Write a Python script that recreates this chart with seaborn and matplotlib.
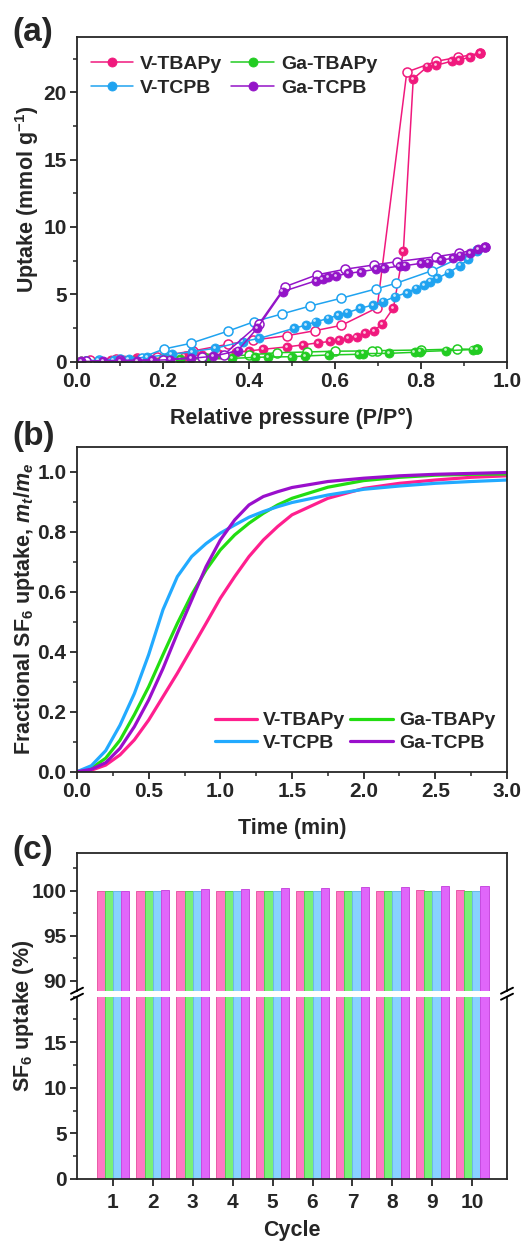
import numpy as np
import pandas as pd
import matplotlib
matplotlib.use("Agg")
import matplotlib.pyplot as plt
import matplotlib.transforms as mtransforms
from matplotlib.ticker import MultipleLocator
import seaborn as sns

# ---------------- data ----------------
names = ["V-TBAPy", "Ga-TBAPy", "V-TCPB", "Ga-TCPB"]

# (a) isotherms: adsorption (filled) / desorption (open)
vtbapy_ads_x = [0.01, 0.05, 0.08, 0.11, 0.14, 0.17, 0.21, 0.25, 0.29, 0.33, 0.37, 0.40, 0.433, 0.488, 0.526, 0.56,
                0.588, 0.61, 0.63, 0.65, 0.67, 0.69, 0.71, 0.736, 0.759, 0.782, 0.815, 0.835, 0.871, 0.889, 0.914, 0.937]
vtbapy_ads_y = [0.03, 0.06, 0.1, 0.14, 0.18, 0.22, 0.3, 0.4, 0.5, 0.6, 0.7, 0.8, 0.92, 1.1, 1.25, 1.4,
                1.5, 1.58, 1.73, 1.85, 2.1, 2.3, 2.8, 4.0, 8.2, 21.0, 21.9, 22.0, 22.3, 22.4, 22.6, 22.9]
vtbapy_des_x = [0.937, 0.887, 0.836, 0.767, 0.698, 0.615, 0.553, 0.488, 0.41, 0.352, 0.27, 0.185, 0.14, 0.09, 0.03]
vtbapy_des_y = [22.9, 22.6, 22.3, 21.5, 4.0, 2.7, 2.3, 1.93, 1.6, 1.3, 0.8, 0.37, 0.3, 0.22, 0.15]

vtcpb_ads_x = [0.02, 0.05, 0.085, 0.12, 0.163, 0.22, 0.267, 0.321, 0.385, 0.424, 0.505, 0.533, 0.555, 0.584, 0.608,
               0.629, 0.658, 0.688, 0.712, 0.74, 0.767, 0.788, 0.807, 0.822, 0.838, 0.864, 0.891, 0.91, 0.93]
vtcpb_ads_y = [0.05, 0.08, 0.12, 0.2, 0.35, 0.54, 0.74, 0.99, 1.49, 1.73, 2.48, 2.72, 2.97, 3.2, 3.47,
               3.64, 3.96, 4.2, 4.46, 4.83, 5.12, 5.42, 5.69, 5.94, 6.19, 6.61, 7.13, 7.6, 8.2]
vtcpb_des_x = [0.93, 0.826, 0.742, 0.695, 0.613, 0.542, 0.476, 0.412, 0.352, 0.264, 0.202, 0.15, 0.1, 0.05, 0.02]
vtcpb_des_y = [8.3, 6.76, 5.82, 5.4, 4.7, 4.13, 3.54, 2.97, 2.28, 1.36, 0.94, 0.3, 0.2, 0.12, 0.06]

gatbapy_ads_x = [0.01, 0.05, 0.09, 0.13, 0.17, 0.21, 0.24, 0.30, 0.361, 0.414, 0.445, 0.499, 0.53, 0.585, 0.655,
                 0.665, 0.726, 0.785, 0.797, 0.858, 0.92, 0.93]
gatbapy_ads_y = [0.02, 0.04, 0.06, 0.08, 0.1, 0.15, 0.2, 0.22, 0.25, 0.32, 0.35, 0.37, 0.42, 0.5, 0.55,
                 0.6, 0.62, 0.7, 0.75, 0.82, 0.9, 0.92]
gatbapy_des_x = [0.93, 0.884, 0.8, 0.698, 0.685, 0.6, 0.535, 0.466, 0.40, 0.3, 0.2, 0.1, 0.02]
gatbapy_des_y = [0.92, 0.94, 0.87, 0.82, 0.8, 0.78, 0.72, 0.67, 0.5, 0.3, 0.2, 0.1, 0.05]

gatcpb_ads_x = [0.01, 0.06, 0.1, 0.14, 0.175, 0.216, 0.265, 0.317, 0.374, 0.419, 0.478, 0.556, 0.571, 0.584, 0.602,
                0.631, 0.66, 0.695, 0.714, 0.75, 0.763, 0.8, 0.817, 0.846, 0.874, 0.891, 0.914, 0.933, 0.949]
gatcpb_ads_y = [0.02, 0.04, 0.05, 0.07, 0.1, 0.15, 0.25, 0.4, 0.82, 2.48, 5.2, 6.01, 6.11, 6.26, 6.36,
                6.56, 6.68, 6.86, 6.93, 7.1, 7.13, 7.3, 7.35, 7.55, 7.67, 7.87, 8.04, 8.34, 8.49]
gatcpb_des_x = [0.949, 0.888, 0.836, 0.745, 0.69, 0.623, 0.557, 0.484, 0.423, 0.341, 0.29, 0.2, 0.1, 0.02]
gatcpb_des_y = [8.49, 8.05, 7.8, 7.43, 7.18, 6.86, 6.44, 5.57, 2.8, 0.5, 0.35, 0.15, 0.1, 0.05]

# (b) kinetics
time_min = [0, 0.1, 0.2, 0.3, 0.4, 0.5, 0.6, 0.7, 0.8, 0.9, 1.0, 1.1, 1.2, 1.3, 1.4, 1.5,
            1.75, 2.0, 2.25, 2.5, 2.75, 3.0]
kin_vtbapy = [0, 0.005, 0.022, 0.056, 0.106, 0.172, 0.25, 0.328, 0.411, 0.494, 0.578, 0.65, 0.717, 0.772, 0.817,
              0.856, 0.911, 0.944, 0.961, 0.972, 0.981, 0.986]
kin_gatbapy = [0, 0.011, 0.045, 0.105, 0.19, 0.283, 0.39, 0.494, 0.59, 0.672, 0.739, 0.789, 0.828, 0.861, 0.889,
               0.911, 0.948, 0.97, 0.981, 0.988, 0.991, 0.992]
kin_vtcpb = [0, 0.02, 0.07, 0.155, 0.26, 0.39, 0.54, 0.65, 0.717, 0.76, 0.795, 0.822, 0.848, 0.867, 0.883,
             0.897, 0.922, 0.941, 0.952, 0.961, 0.967, 0.972]
kin_gatcpb = [0, 0.008, 0.03, 0.078, 0.15, 0.239, 0.344, 0.461, 0.572, 0.683, 0.772, 0.839, 0.889, 0.917, 0.933,
              0.947, 0.967, 0.978, 0.986, 0.991, 0.994, 0.997]

# (c) cycling
cycles = [1, 2, 3, 4, 5, 6, 7, 8, 9, 10]
cyc_vtbapy = [100.0, 100.0, 100.0, 100.0, 100.0, 100.02, 100.02, 100.03, 100.05, 100.07]
cyc_gatbapy = [99.97, 99.95, 99.95, 99.95, 99.95, 99.97, 99.97, 99.95, 99.97, 99.95]
cyc_vtcpb = [100.0, 100.0, 100.02, 100.0, 100.02, 100.0, 100.0, 100.02, 100.0, 100.0]
cyc_gatcpb = [100.0, 100.07, 100.15, 100.22, 100.26, 100.33, 100.37, 100.44, 100.48, 100.55]

# ---------------- style ----------------
sns.set_theme(style="ticks")
plt.rcParams["font.family"] = ["Liberation Sans", "DejaVu Sans"]
plt.rcParams["font.weight"] = "bold"
plt.rcParams["axes.labelweight"] = "bold"
plt.rcParams["mathtext.fontset"] = "custom"
plt.rcParams["mathtext.rm"] = "Liberation Sans:bold"
plt.rcParams["mathtext.it"] = "Liberation Sans:italic:bold"
plt.rcParams["mathtext.bf"] = "Liberation Sans:bold"
plt.rcParams["axes.linewidth"] = 1.3
plt.rcParams["xtick.major.width"] = 1.3
plt.rcParams["ytick.major.width"] = 1.3
plt.rcParams["xtick.minor.width"] = 1.1
plt.rcParams["ytick.minor.width"] = 1.1
plt.rcParams["xtick.major.size"] = 5
plt.rcParams["ytick.major.size"] = 5
plt.rcParams["xtick.minor.size"] = 3
plt.rcParams["ytick.minor.size"] = 3
plt.rcParams["xtick.direction"] = "out"
plt.rcParams["ytick.direction"] = "out"

TICK = 15
LAB = 15.5
LEG = 14

line_cols = {"V-TBAPy": "#F0197D", "Ga-TBAPy": "#22CC22", "V-TCPB": "#1FA3F0", "Ga-TCPB": "#9414C8"}
kin_cols = {"V-TBAPy": "#FF1F8E", "Ga-TBAPy": "#22DD11", "V-TCPB": "#22AAFF", "Ga-TCPB": "#9A0FCC"}
bar_cols = {"V-TBAPy": "#FF78C6", "Ga-TBAPy": "#78F078", "V-TCPB": "#88D2FF", "Ga-TCPB": "#E066FA"}
bar_edges = ["#E85AA8", "#55D055", "#6AB8E8", "#C84AE0"]

W, H = 530, 1242
fig = plt.figure(figsize=(W / 100, H / 100), dpi=100)


def rect(l, r, t, b):
    return [l / W, 1 - b / H, (r - l) / W, (b - t) / H]


def style_ticks(ax):
    ax.tick_params(axis="both", labelsize=TICK, top=False, right=False, pad=2.5)
    ax.tick_params(which="minor", top=False, right=False)
    for lab in ax.get_xticklabels() + ax.get_yticklabels():
        lab.set_fontweight("bold")


# ---------------- (a) ----------------
ax_a = fig.add_axes(rect(77, 507, 37, 361.7))
series_a = [
    ("V-TBAPy", vtbapy_ads_x, vtbapy_ads_y, vtbapy_des_x, vtbapy_des_y),
    ("Ga-TBAPy", gatbapy_ads_x, gatbapy_ads_y, gatbapy_des_x, gatbapy_des_y),
    ("V-TCPB", vtcpb_ads_x, vtcpb_ads_y, vtcpb_des_x, vtcpb_des_y),
    ("Ga-TCPB", gatcpb_ads_x, gatcpb_ads_y, gatcpb_des_x, gatcpb_des_y),
]
hl = mtransforms.offset_copy(ax_a.transData, fig=fig, x=-1.2, y=1.2, units="dots")
for name, ax_x, ax_y, dx, dy in series_a:
    c = line_cols[name]
    sns.lineplot(x=dx, y=dy, ax=ax_a, sort=False, estimator=None, color=c, lw=1.1,
                 marker="o", markersize=6.5, markerfacecolor="white", markeredgecolor=c,
                 markeredgewidth=1.1)
    sns.lineplot(x=ax_x, y=ax_y, ax=ax_a, sort=False, estimator=None, color=c, lw=1.1,
                 marker="o", markersize=6.5, markerfacecolor=c, markeredgecolor=c,
                 markeredgewidth=0.6, label=name)
    ax_a.plot(ax_x, ax_y, ls="none", marker="o", markersize=2.0, color="white", alpha=0.75,
              markeredgewidth=0, transform=hl)
h, l = ax_a.get_legend_handles_labels()
hd = dict(zip(l, h))
order = ["V-TBAPy", "V-TCPB", "Ga-TBAPy", "Ga-TCPB"]
ax_a.legend([hd[k] for k in order], order, ncol=2, loc="upper left", frameon=False,
            prop={"size": LEG, "weight": "bold"}, handlelength=2.2, handletextpad=0.35,
            columnspacing=0.45, labelspacing=0.3, borderaxespad=0.3,
            bbox_to_anchor=(0.0, 0.985))
ax_a.set_xlim(0, 1.0)
ax_a.set_ylim(0, 24.1)
ax_a.xaxis.set_major_locator(MultipleLocator(0.2))
ax_a.xaxis.set_minor_locator(MultipleLocator(0.1))
ax_a.yaxis.set_major_locator(MultipleLocator(5))
ax_a.yaxis.set_minor_locator(MultipleLocator(2.5))
ax_a.set_xticks([0.0, 0.2, 0.4, 0.6, 0.8, 1.0])
ax_a.set_xticklabels(["0.0", "0.2", "0.4", "0.6", "0.8", "1.0"])
ax_a.set_xlabel("Relative pressure (P/P°)", fontsize=LAB, fontweight="bold")
ax_a.set_ylabel("Uptake (mmol g$^{-1}$)", fontsize=LAB, fontweight="bold")
ax_a.xaxis.set_label_coords(0.5, -0.142)
ax_a.yaxis.set_label_coords(-0.084, 0.5)
style_ticks(ax_a)

# ---------------- (b) ----------------
ax_b = fig.add_axes(rect(77, 507, 446.7, 771.7))
kin = {"V-TBAPy": kin_vtbapy, "Ga-TBAPy": kin_gatbapy, "V-TCPB": kin_vtcpb, "Ga-TCPB": kin_gatcpb}
for name in names:
    sns.lineplot(x=time_min, y=kin[name], ax=ax_b, color=kin_cols[name], lw=2.3, label=name,
                 estimator=None, sort=False)
h, l = ax_b.get_legend_handles_labels()
hd = dict(zip(l, h))
ax_b.legend([hd[k] for k in order], order, ncol=2, loc="lower right", frameon=False,
            prop={"size": LEG, "weight": "bold"}, handlelength=2.2, handletextpad=0.3,
            columnspacing=0.25, labelspacing=0.25, borderaxespad=0.2,
            bbox_to_anchor=(1.0, 0.025))
ax_b.set_xlim(0, 3.0)
ax_b.set_ylim(0, 1.083)
ax_b.xaxis.set_major_locator(MultipleLocator(0.5))
ax_b.xaxis.set_minor_locator(MultipleLocator(0.25))
ax_b.yaxis.set_major_locator(MultipleLocator(0.2))
ax_b.yaxis.set_minor_locator(MultipleLocator(0.1))
ax_b.set_yticks([0.0, 0.2, 0.4, 0.6, 0.8, 1.0])
ax_b.set_yticklabels(["0.0", "0.2", "0.4", "0.6", "0.8", "1.0"])
ax_b.set_xticks([0, 0.5, 1.0, 1.5, 2.0, 2.5, 3.0])
ax_b.set_xticklabels(["0.0", "0.5", "1.0", "1.5", "2.0", "2.5", "3.0"])
ax_b.set_xlabel("Time (min)", fontsize=LAB, fontweight="bold")
ax_b.set_ylabel("Fractional SF$_6$ uptake, $m_t$/$m_e$", fontsize=LAB, fontweight="bold")
ax_b.xaxis.set_label_coords(0.5, -0.142)
ax_b.yaxis.set_label_coords(-0.093, 0.5)
style_ticks(ax_b)

# ---------------- (c) ----------------
cyc_df = pd.DataFrame({
    "Cycle": np.repeat(cycles, 4),
    "Sample": names * len(cycles),
    "Value": np.ravel(np.column_stack([cyc_vtbapy, cyc_gatbapy, cyc_vtcpb, cyc_gatcpb])),
})
cyc_df["Cycle"] = cyc_df["Cycle"].astype(str)
cyc_order = [str(c) for c in cycles]

ax_ct = fig.add_axes(rect(77, 507, 853, 990.7))
ax_cb = fig.add_axes(rect(77, 507, 996.7, 1179))
for ax in (ax_ct, ax_cb):
    sns.barplot(data=cyc_df, x="Cycle", y="Value", hue="Sample", order=cyc_order, hue_order=names,
                palette=bar_cols, width=0.82, ax=ax, legend=False, linewidth=0.7, saturation=1)
    for i, cont in enumerate(ax.containers):
        for p in cont.patches:
            p.set_edgecolor(bar_edges[i])
    ax.set_xlim(-0.9, 9.87)
    ax.set_ylabel("")
    ax.set_xlabel("")

ax_ct.set_ylim(88.9, 104.2)
ax_ct.yaxis.set_major_locator(MultipleLocator(5))
ax_ct.yaxis.set_minor_locator(MultipleLocator(2.5))
ax_ct.set_yticks([90, 95, 100])
ax_ct.spines["bottom"].set_visible(False)

ax_cb.set_ylim(0, 20)
ax_cb.yaxis.set_major_locator(MultipleLocator(5))
ax_cb.yaxis.set_minor_locator(MultipleLocator(2.5))
ax_cb.set_yticks([0, 5, 10, 15])
ax_cb.spines["top"].set_visible(False)
ax_cb.set_xlabel("Cycle", fontsize=LAB, fontweight="bold")
ax_cb.xaxis.set_label_coords(0.5, -0.225)
style_ticks(ax_ct)
style_ticks(ax_cb)
ax_ct.tick_params(axis="x", which="both", bottom=False, labelbottom=False)
ax_cb.tick_params(axis="x", which="minor", bottom=False)
ax_cb.tick_params(axis="x", pad=5)

# break marks
for ax, yv in ((ax_ct, 0.0), (ax_cb, 1.0)):
    bb = ax.get_position()
    for xv in (0.0, 1.0):
        x0 = bb.x0 + xv * bb.width
        y0 = bb.y0 + yv * bb.height
        fig.add_artist(plt.Line2D([x0 - 6 / W, x0 + 6 / W], [y0 - 3 / H, y0 + 3 / H],
                                  transform=fig.transFigure, color="black", lw=1.4))

fig.text(24 / W, 1 - 1016 / H, "SF$_6$ uptake (%)", rotation=90, ha="center", va="center",
         fontsize=LAB, fontweight="bold")

# panel labels
for lab, yy in (("(a)", 32), ("(b)", 436), ("(c)", 851)):
    fig.text(12 / W, 1 - yy / H, lab, fontsize=24, fontweight="bold", ha="left", va="center")

fig.savefig("out.png", dpi=100)
